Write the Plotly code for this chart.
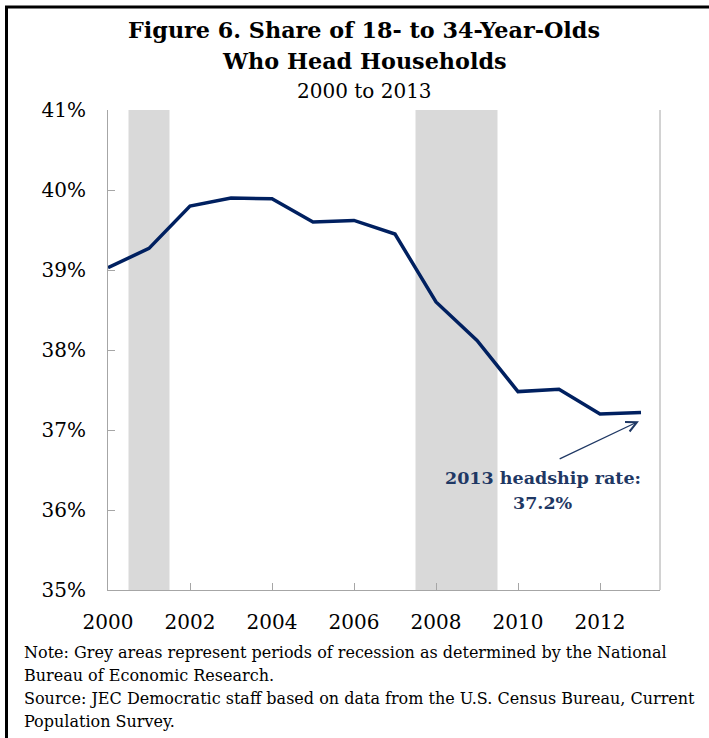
import plotly.graph_objects as go

# Share of 18- to 34-year-olds who head households, 2000-2013 (percent)
years = [2000, 2001, 2002, 2003, 2004, 2005, 2006, 2007, 2008, 2009, 2010, 2011, 2012, 2013]
share = [39.03, 39.27, 39.80, 39.90, 39.89, 39.60, 39.62, 39.45, 38.60, 38.12, 37.48, 37.51, 37.20, 37.22]

# NBER recession periods, as plotted on the annual axis
recessions = [(2000.5, 2001.5), (2007.5, 2009.5)]

y_ticks = [35, 36, 37, 38, 39, 40, 41]
x_ticks = [2000, 2002, 2004, 2006, 2008, 2010, 2012]

note_lines = [
    "Note: Grey areas represent periods of recession as determined by the National",
    "Bureau of Economic Research.",
    "Source: JEC Democratic staff based on data from the U.S. Census Bureau, Current",
    "Population Survey.",
]

NAVY = "#002060"
CALLOUT = "#1F3864"
SERIF = "DejaVu Serif"

# plot-area geometry in pixels (used to place paper-referenced text)
W, H = 709, 738
L, R, T, B = 108, 660, 110, 590


def px_x(p):
    return (p - L) / (R - L)


def px_y(p):
    return (B - p) / (B - T)


fig = go.Figure()

for x0, x1 in recessions:
    fig.add_vrect(x0=x0, x1=x1, fillcolor="#D9D9D9", line_width=0, layer="below")

fig.add_trace(go.Scatter(
    x=years, y=share, mode="lines",
    line=dict(color=NAVY, width=3.5),
    hoverinfo="x+y", showlegend=False,
))

# plot-area right edge
fig.add_shape(type="line", xref="paper", yref="paper", x0=1, x1=1, y0=0, y1=1,
              line=dict(color="#A6A6A6", width=1))

# outer frame (left and top edges)
fig.add_shape(type="line", xref="paper", yref="paper",
              x0=px_x(6.5), x1=px_x(6.5), y0=px_y(7), y1=px_y(760),
              line=dict(color="black", width=3))
fig.add_shape(type="line", xref="paper", yref="paper",
              x0=px_x(5), x1=px_x(730), y0=px_y(7), y1=px_y(7),
              line=dict(color="black", width=3))

title_x = px_x(364)
fig.add_annotation(xref="paper", yref="paper", x=title_x, y=px_y(30),
                   text="<b>Figure 6. Share of 18- to 34-Year-Olds</b>", showarrow=False,
                   font=dict(family=SERIF, size=22.3, color="black"), xanchor="center", yanchor="middle")
fig.add_annotation(xref="paper", yref="paper", x=title_x, y=px_y(61),
                   text="<b>Who Head Households</b>", showarrow=False,
                   font=dict(family=SERIF, size=22.3, color="black"), xanchor="center", yanchor="middle")
fig.add_annotation(xref="paper", yref="paper", x=title_x, y=px_y(91),
                   text="2000 to 2013", showarrow=False,
                   font=dict(family=SERIF, size=20, color="black"), xanchor="center", yanchor="middle")

# callout for the latest value
fig.add_annotation(x=2012.95, y=37.11, ax=2010.98, ay=36.63, xref="x", yref="y",
                   axref="x", ayref="y", text="", showarrow=True,
                   arrowhead=5, arrowsize=1.6, arrowwidth=1.3, arrowcolor=CALLOUT)
fig.add_annotation(x=2010.61, y=36.40, xref="x", yref="y",
                   text=f"<b>{years[-1]} headship rate:</b>",
                   showarrow=False, yanchor="middle",
                   font=dict(family=SERIF, size=17.5, color=CALLOUT))
fig.add_annotation(x=2010.61, y=36.09, xref="x", yref="y",
                   text=f"<b>{share[-1]:.1f}%</b>",
                   showarrow=False, yanchor="middle",
                   font=dict(family=SERIF, size=17.5, color=CALLOUT))

for i, line in enumerate(note_lines):
    fig.add_annotation(xref="paper", yref="paper", x=px_x(22), y=px_y(652 + 23 * i),
                       text=line, showarrow=False, align="left",
                       xanchor="left", yanchor="middle",
                       font=dict(family=SERIF, size=16, color="black"))

fig.update_layout(
    width=W, height=H,
    margin=dict(l=L, r=W - R, t=T, b=H - B),
    paper_bgcolor="white", plot_bgcolor="white",
    showlegend=False,
    xaxis=dict(
        range=[2000, 2000 + (R - L) / 41.0],
        tickvals=x_ticks, ticktext=[str(v) for v in x_ticks],
        ticks="inside", ticklen=7, tickcolor="#A6A6A6",
        showline=True, linecolor="#A6A6A6", linewidth=1,
        showgrid=False, zeroline=False,
        ticklabelstandoff=14,
        tickfont=dict(family=SERIF, size=20, color="black"),
    ),
    yaxis=dict(
        range=[35, 41],
        tickvals=y_ticks, ticktext=[f"{v}%" for v in y_ticks],
        ticks="inside", ticklen=7, tickcolor="#A6A6A6",
        showline=True, linecolor="#A6A6A6", linewidth=1,
        showgrid=False, zeroline=False,
        ticklabelstandoff=17,
        tickfont=dict(family=SERIF, size=20, color="black"),
    ),
)

fig.write_html("out.html")
